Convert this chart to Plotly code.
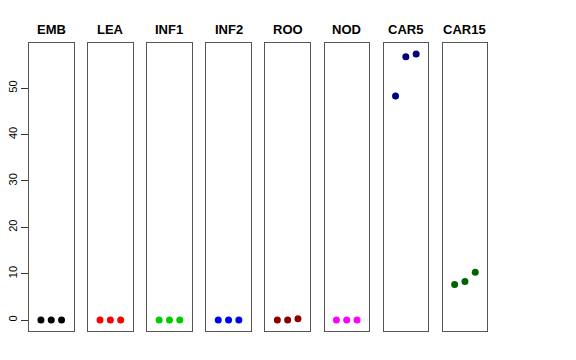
import plotly.graph_objects as go

tissues = ["EMB", "LEA", "INF1", "INF2", "ROO", "NOD", "CAR5", "CAR15"]
colors = ["#000000", "#FF0000", "#00CD00", "#0000FF", "#8B0000", "#FF00FF", "#000080", "#006400"]
reps = [1, 2, 3]
values = [
    [0, 0, 0],
    [0, 0, 0],
    [0, 0, 0],
    [0, 0, 0],
    [0, 0, 0.3],
    [0, 0, 0],
    [48.3, 56.8, 57.4],
    [7.7, 8.3, 10.3],
]
yticks = [0, 10, 20, 30, 40, 50]

# page body has an 8px default margin
OFF = 8
W, H = 576 - OFF, 360 - OFF
left, right, top, bottom = 29 - OFF, 488 - OFF, 43 - OFF, 331 - OFF
pw = right - left
step, width = 59.1, 44.5

fig = go.Figure()
for i, (name, col, vals) in enumerate(zip(tissues, colors, values)):
    n = "" if i == 0 else str(i + 1)
    x0 = (i * step) / pw
    x1 = (i * step + width) / pw
    fig.add_trace(go.Scatter(x=reps, y=vals, mode="markers",
                             marker=dict(color=col, size=7),
                             xaxis="x" + n, yaxis="y" + n, showlegend=False))
    fig.layout["xaxis" + n] = dict(domain=[x0, min(x1, 1)], range=[-0.16, 4.16],
                                   showgrid=False, zeroline=False, showticklabels=False,
                                   ticks="", showline=True, mirror=True,
                                   linecolor="#555555", linewidth=1,
                                   anchor="y" + n, automargin=False)
    ydict = dict(range=[-2.35, 59.75], showgrid=False, zeroline=False,
                 showline=True, mirror=True, linecolor="#555555", linewidth=1,
                 anchor="x" + n, automargin=False)
    if i == 0:
        ydict.update(tickvals=yticks, ticks="outside", ticklen=7, tickcolor="#333333",
                     tickangle=-90, tickfont=dict(family="Liberation Sans", size=11, color="#000"))
    else:
        ydict.update(showticklabels=False, ticks="")
    fig.layout["yaxis" + n] = ydict
    fig.add_annotation(x=(x0 + x1) / 2, y=1, xref="paper", yref="paper",
                       text="<b>" + name + "</b>", showarrow=False,
                       xanchor="center", yanchor="bottom", yshift=4,
                       font=dict(family="Liberation Sans", size=13, color="#000"))

fig.update_layout(width=W, height=H, plot_bgcolor="white", paper_bgcolor="white",
                  margin=dict(l=left, r=W - right, t=top, b=H - bottom, pad=0))
fig.write_html("out.html")
